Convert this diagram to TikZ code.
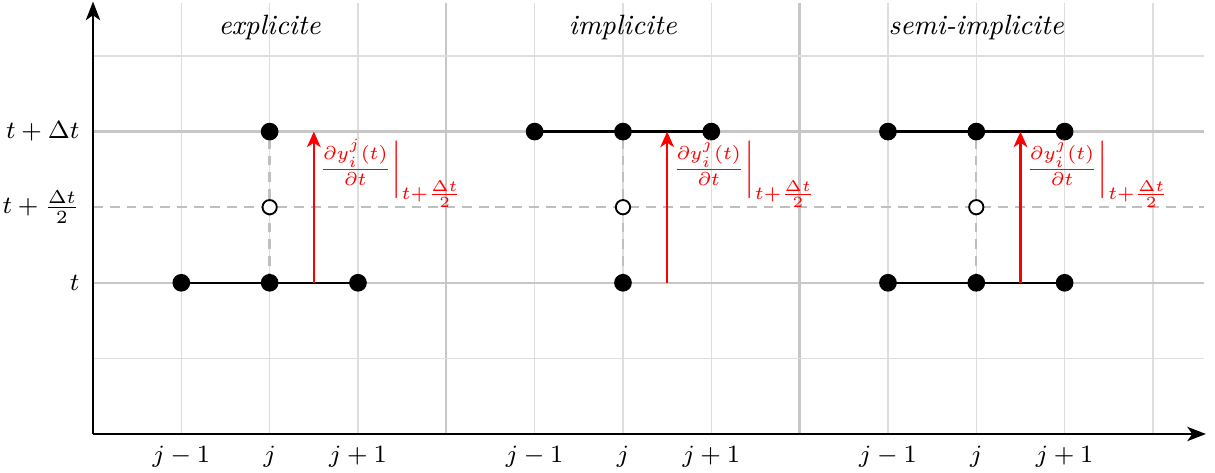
\documentclass[tikz,border=0pt]{standalone}
\usetikzlibrary{arrows.meta}
\begin{document}
\begin{tikzpicture}[x=1cm,y=0.8559cm,
  gridthin/.style={black!13,line width=0.4pt},
  gridthick/.style={black!22,line width=0.75pt},
  dashline/.style={black!25,line width=0.75pt,dash pattern=on 3.2pt off 2.2pt},
  axis/.style={black,line width=0.75pt,-{Stealth[length=6pt,width=4.6pt,inset=1.6pt]}},
  seg/.style={black,line width=0.7pt},
  rarrow/.style={red,line width=0.8pt,-{Stealth[length=5pt,width=4.4pt,inset=1.4pt]}},
  fulldot/.style={circle,fill=black,inner sep=0pt,minimum size=5.7pt},
  opendot/.style={circle,draw=black,fill=white,line width=0.6pt,inner sep=0pt,minimum size=4.6pt},
  xlab/.style={anchor=base,inner sep=0pt,font=\footnotesize},
  ylab/.style={anchor=east,inner sep=0pt,font=\footnotesize},
  titlelab/.style={anchor=base,inner sep=0pt,font=\small},
  rlab/.style={anchor=north west,inner sep=0pt,text=red,font=\footnotesize}]
\useasboundingbox (-1.0529cm,-0.4415cm) rectangle (12.7025cm,4.9134cm);
% grid
\foreach \x in {1,2,3,5,6,7,9,10,11,12} \draw[gridthin] (\x,0) -- (\x,5.70);
\foreach \x in {4,8} \draw[gridthick] (\x,0) -- (\x,5.70);
\foreach \y in {1,5} \draw[gridthin] (0,\y) -- (12.58,\y);
\foreach \y in {2,4} \draw[gridthick] (0,\y) -- (12.58,\y);
% half step dashed line
\coordinate (hL) at (0,3);
\coordinate (hR) at (12.58,3);
\draw[dashline] (hL) -- (hR);
% axes
\coordinate (O) at (0,0);
\coordinate (X) at (12.6,0);
\coordinate (Y) at (0,5.72);
\draw[axis] (O) -- (X);
\draw[axis] (O) -- (Y);
% points
\foreach \n/\c in {e/2,i/6,s/10}{
  \coordinate (\n L0) at (\c-1,2);
  \coordinate (\n C0) at (\c,2);
  \coordinate (\n R0) at (\c+1,2);
  \coordinate (\n L1) at (\c-1,4);
  \coordinate (\n C1) at (\c,4);
  \coordinate (\n R1) at (\c+1,4);
  \coordinate (\n M) at (\c,3);
  \coordinate (\n A0) at (\c+0.5,2);
  \coordinate (\n A1) at (\c+0.5,4);
  \draw[dashline] (\n C0) -- (\n C1);
}
% explicit
\draw[seg] (eL0) -- (eR0);
\draw[rarrow] (eA0) -- (eA1);
\node[fulldot] (E1) at (eL0) {};
\node[fulldot] (E2) at (eC0) {};
\node[fulldot] (E3) at (eR0) {};
\node[fulldot] (E4) at (eC1) {};
\node[opendot] (E5) at (eM) {};
% implicit
\draw[seg] (iL1) -- (iR1);
\draw[rarrow] (iA0) -- (iA1);
\node[fulldot] (I1) at (iL1) {};
\node[fulldot] (I2) at (iC1) {};
\node[fulldot] (I3) at (iR1) {};
\node[fulldot] (I4) at (iC0) {};
\node[opendot] (I5) at (iM) {};
% semi-implicit
\draw[seg] (sL0) -- (sR0);
\draw[seg] (sL1) -- (sR1);
\draw[rarrow] (sA0) -- (sA1);
\node[fulldot] (S1) at (sL0) {};
\node[fulldot] (S2) at (sC0) {};
\node[fulldot] (S3) at (sR0) {};
\node[fulldot] (S4) at (sL1) {};
\node[fulldot] (S5) at (sC1) {};
\node[fulldot] (S6) at (sR1) {};
\node[opendot] (S7) at (sM) {};
% red labels
\foreach \n/\c in {e/2,i/6,s/10}{
  \node[rlab] (\n lab) at (\c+0.515,3.907)
    {$\left.\frac{\partial y_i^j(t)}{\partial t}\right|_{t+\frac{\Delta t}{2}}$};
}
% titles
\node[titlelab] (T1) at (2,5.28) {\textit{explicite}};
\node[titlelab] (T2) at (6,5.28) {\textit{implicite}};
\node[titlelab] (T3) at (10,5.28) {\textit{semi-implicite}};
% x labels
\foreach \c [count=\k] in {2,6,10}{
  \node[xlab] (xa\k) at ([yshift=-9.3pt]\c-1,0) {$j-1$};
  \node[xlab] (xb\k) at ([yshift=-9.3pt]\c,0) {$j$};
  \node[xlab] (xc\k) at ([yshift=-9.3pt]\c+1,0) {$j+1$};
}
% y labels
\node[ylab] (t0) at ([xshift=-4.2pt]0,2) {$t$};
\node[ylab] (t1) at ([xshift=-4.2pt]0,3) {$t+\frac{\Delta t}{2}$};
\node[ylab] (t2) at ([xshift=-4.2pt]0,4) {$t+\Delta t$};
\end{tikzpicture}
\end{document}
